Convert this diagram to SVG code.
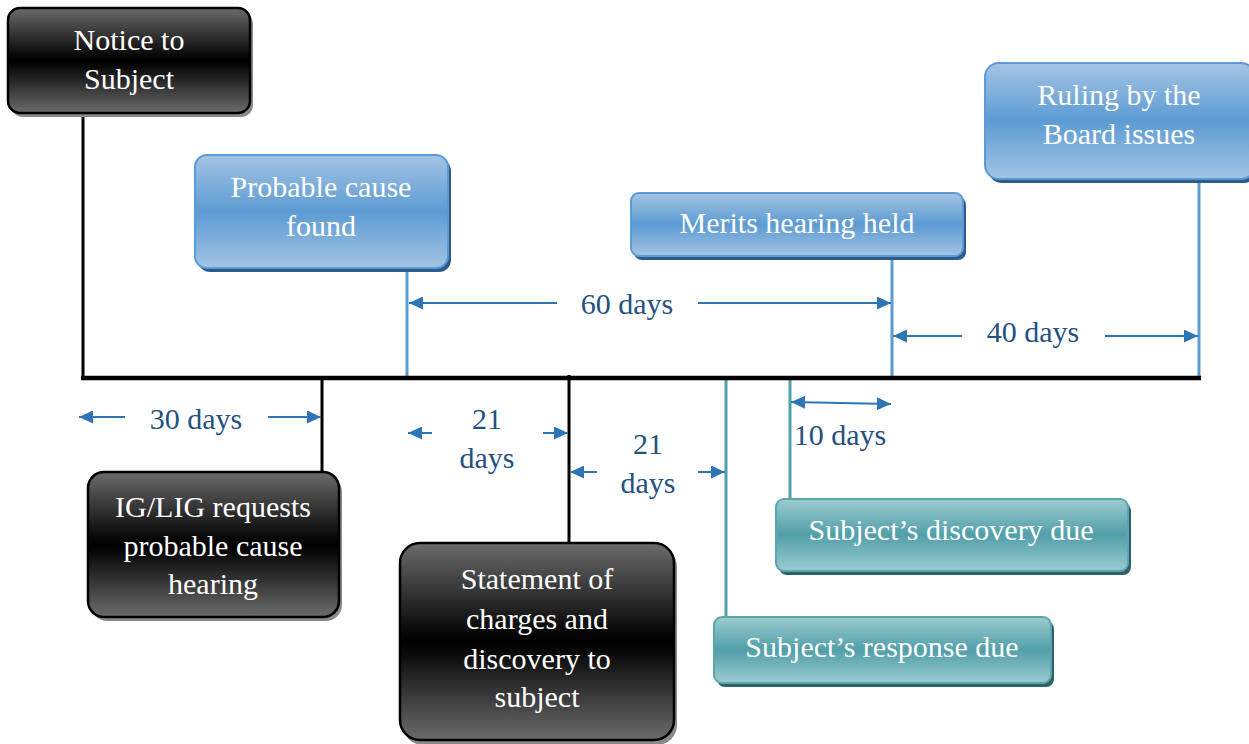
<svg xmlns="http://www.w3.org/2000/svg" width="1249" height="744" viewBox="0 0 1249 744">
<defs>
<linearGradient id="gBlack" x1="0" y1="0" x2="0" y2="1">
<stop offset="0" stop-color="#6b6b6b"/><stop offset="0.45" stop-color="#080808"/><stop offset="0.5" stop-color="#000"/><stop offset="0.55" stop-color="#080808"/><stop offset="1" stop-color="#6b6b6b"/>
</linearGradient>
<linearGradient id="gBlue" x1="0" y1="0" x2="0" y2="1">
<stop offset="0" stop-color="#a4c4e4"/><stop offset="0.5" stop-color="#5c9bd3"/><stop offset="1" stop-color="#a4c4e4"/>
</linearGradient>
<linearGradient id="gTeal" x1="0" y1="0" x2="0" y2="1">
<stop offset="0" stop-color="#9ccbd0"/><stop offset="0.5" stop-color="#529fa9"/><stop offset="1" stop-color="#9ccbd0"/>
</linearGradient>
<marker id="ah" viewBox="0 0 14 13" refX="14" refY="6.5" markerWidth="14" markerHeight="13" markerUnits="userSpaceOnUse" orient="auto-start-reverse">
<path d="M0,0 L14,6.5 L0,13 z" fill="#2e75b6"/>
</marker>
</defs>
<style>
text{font-family:"Liberation Serif","Times New Roman",serif;font-size:30px;text-anchor:middle}
.wt{fill:#ffffff}
.lb{fill:#24517f}
.blk{fill:url(#gBlack);stroke:#000;stroke-width:2.5}
.blks{fill:#8a8a8a}
.blu{fill:url(#gBlue);stroke:#5b9bd5;stroke-width:2}
.blus{fill:#2d5b8c}
.tel{fill:url(#gTeal);stroke:#5aa6af;stroke-width:2}
.tels{fill:#2f6168}
.arr{stroke:#2e75b6;stroke-width:2;fill:none;marker-end:url(#ah)}
.kl{stroke:#000;stroke-width:3;fill:none}
.bl{stroke:#5b9bd5;stroke-width:3;fill:none}
.tl{stroke:#4fa0aa;stroke-width:3;fill:none}
</style>
<g id="connectors">
<line class="kl" x1="83" y1="113" x2="83" y2="378"/>
<line class="kl" x1="322" y1="378" x2="322" y2="472"/>
<line class="kl" x1="569" y1="375" x2="569" y2="543"/>
<line class="bl" x1="407" y1="268" x2="407" y2="378"/>
<line class="bl" x1="892" y1="256" x2="892" y2="378"/>
<line class="bl" x1="1199" y1="180" x2="1199" y2="378"/>
<line class="tl" x1="726" y1="378" x2="726" y2="617"/>
<line class="tl" x1="790" y1="378" x2="790" y2="499"/>
<line x1="81" y1="378" x2="1201" y2="378" stroke="#000" stroke-width="4.5"/>
<line class="arr" x1="557" y1="303" x2="409" y2="303"/>
<line class="arr" x1="698" y1="303" x2="891" y2="303"/>
<line class="arr" x1="962" y1="336" x2="893" y2="336"/>
<line class="arr" x1="1105" y1="336" x2="1198" y2="336"/>
<line class="arr" x1="125" y1="417" x2="79" y2="417"/>
<line class="arr" x1="268" y1="417" x2="321" y2="417"/>
<line class="arr" x1="432" y1="433" x2="408" y2="433"/>
<line class="arr" x1="543" y1="433" x2="568" y2="433"/>
<line class="arr" x1="597" y1="472" x2="570" y2="472"/>
<line class="arr" x1="698" y1="472" x2="725" y2="472"/>
<line class="arr" x1="791" y1="402" x2="891" y2="404" style="marker-start:url(#ah)"/>
<text class="lb" x="627" y="314">60 days</text>
<text class="lb" x="1033" y="342">40 days</text>
<text class="lb" x="196" y="429">30 days</text>
<text class="lb" x="487" y="429">21</text>
<text class="lb" x="487" y="468">days</text>
<text class="lb" x="648" y="454">21</text>
<text class="lb" x="648" y="493">days</text>
<text class="lb" x="840" y="445">10 days</text>
</g>
<g id="notice">
<rect class="blks" x="11" y="12" width="242" height="105" rx="12"/>
<rect class="blk" x="8" y="8" width="242" height="105" rx="12"/>
<text class="wt" x="129" y="50">Notice to</text>
<text class="wt" x="129" y="89">Subject</text>
</g>
<g id="probable">
<rect class="blus" x="198" y="159" width="253" height="113" rx="12"/>
<rect class="blu" x="195" y="155" width="253" height="113" rx="12"/>
<text class="wt" x="321" y="197">Probable cause</text>
<text class="wt" x="321" y="236">found</text>
</g>
<g id="merits">
<rect class="blus" x="634" y="197" width="332" height="63" rx="8"/>
<rect class="blu" x="631" y="193" width="332" height="63" rx="8"/>
<text class="wt" x="797" y="233">Merits hearing held</text>
</g>
<g id="ruling">
<rect class="blus" x="988" y="67" width="270" height="116" rx="14"/>
<rect class="blu" x="985" y="63" width="270" height="116" rx="14"/>
<text class="wt" x="1119" y="105">Ruling by the</text>
<text class="wt" x="1119" y="144">Board issues</text>
</g>
<g id="iglig">
<rect class="blks" x="91" y="476" width="251" height="145" rx="16"/>
<rect class="blk" x="88" y="472" width="251" height="145" rx="16"/>
<text class="wt" x="213" y="517">IG/LIG requests</text>
<text class="wt" x="213" y="556">probable cause</text>
<text class="wt" x="213" y="594">hearing</text>
</g>
<g id="statement">
<rect class="blks" x="403" y="547" width="274" height="198" rx="20"/>
<rect class="blk" x="400" y="543" width="274" height="197" rx="20"/>
<text class="wt" x="537" y="589">Statement of</text>
<text class="wt" x="537" y="629">charges and</text>
<text class="wt" x="537" y="669">discovery to</text>
<text class="wt" x="537" y="707">subject</text>
</g>
<g id="discovery">
<rect class="tels" x="779" y="503" width="352" height="72" rx="8"/>
<rect class="tel" x="776" y="499" width="352" height="72" rx="8"/>
<text class="wt" x="951" y="540">Subject’s discovery due</text>
</g>
<g id="response">
<rect class="tels" x="717" y="621" width="337" height="66" rx="8"/>
<rect class="tel" x="714" y="617" width="337" height="66" rx="8"/>
<text class="wt" x="882" y="657">Subject’s response due</text>
</g>
</svg>
